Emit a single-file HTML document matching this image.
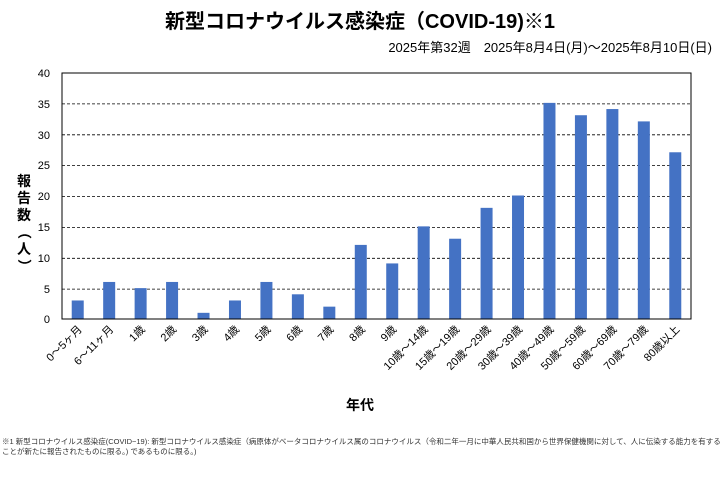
<!DOCTYPE html>
<html><head><meta charset="utf-8"><style>
body{margin:0;background:#fff}
svg text{font-family:"Liberation Sans","Noto Sans CJK JP",sans-serif}
</style></head><body>
<svg width="720" height="474" xmlns="http://www.w3.org/2000/svg">
<rect width="720" height="474" fill="#fff"/>
<text x="360" y="28" font-size="20" font-weight="bold" text-anchor="middle">新型コロナウイルス感染症（COVID-19)※1</text>
<text x="712" y="52" font-size="13" text-anchor="end">2025年第32週　2025年8月4日(月)～2025年8月10日(日)</text>
<g stroke="#000" stroke-width="0.8" stroke-dasharray="3,2">
<line x1="62" x2="691" y1="103.9" y2="103.9"/>
<line x1="62" x2="691" y1="134.8" y2="134.8"/>
<line x1="62" x2="691" y1="165.6" y2="165.6"/>
<line x1="62" x2="691" y1="196.5" y2="196.5"/>
<line x1="62" x2="691" y1="227.4" y2="227.4"/>
<line x1="62" x2="691" y1="258.3" y2="258.3"/>
<line x1="62" x2="691" y1="289.1" y2="289.1"/>
</g>
<g font-size="11" text-anchor="end">
<text x="50" y="323">0</text><text x="50" y="293">5</text><text x="50" y="262">10</text><text x="50" y="231">15</text><text x="50" y="200">20</text><text x="50" y="169">25</text><text x="50" y="139">30</text><text x="50" y="108">35</text><text x="50" y="77">40</text>
</g>
<g fill="#4472c4" id="bars"></g>
<rect x="62" y="73" width="629" height="246" fill="none" stroke="#000" stroke-width="1"/>
<g id="lab" font-size="11"></g>
<text x="360" y="410" font-size="14" font-weight="bold" text-anchor="middle">年代</text>
<g font-size="14" font-weight="bold" text-anchor="middle">
<text x="24" y="186">報</text><text x="24" y="203">告</text><text x="24" y="220">数</text>
<text x="24" y="237" transform="rotate(90 24 232)">（</text><text x="24" y="254">人</text><text x="24" y="271" transform="rotate(90 24 266)">）</text>
</g>
<text x="2" y="444" font-size="7.5" fill="#333">※1 新型コロナウイルス感染症(COVID−19): 新型コロナウイルス感染症（病原体がベータコロナウイルス属のコロナウイルス（令和二年一月に中華人民共和国から世界保健機関に対して、人に伝染する能力を有する</text>
<text x="2" y="454" font-size="7.5" fill="#333">ことが新たに報告されたものに限る。) であるものに限る。)</text>
<script>
var v=[3,6,5,6,1,3,6,4,2,12,9,15,13,18,20,35,33,34,32,27];
var l=["0～5ヶ月","6～11ヶ月","1歳","2歳","3歳","4歳","5歳","6歳","7歳","8歳","9歳","10歳～14歳","15歳～19歳","20歳～29歳","30歳～39歳","40歳～49歳","50歳～59歳","60歳～69歳","70歳～79歳","80歳以上"];
var b=document.getElementById('bars'),g=document.getElementById('lab'),ns="http://www.w3.org/2000/svg";
for(var i=0;i<20;i++){var c=62+31.45*(i+0.5);var h=v[i]*6.175;
var r=document.createElementNS(ns,'rect');r.setAttribute('x',c-6);r.setAttribute('y',319-h);r.setAttribute('width',12);r.setAttribute('height',h);b.appendChild(r);
var t=document.createElementNS(ns,'text');var x=c+5,y=330;t.setAttribute('x',x);t.setAttribute('y',y);t.setAttribute('text-anchor','end');t.setAttribute('transform','rotate(-45 '+x+' '+y+')');t.textContent=l[i];g.appendChild(t);}
</script>
</svg>
</body></html>
